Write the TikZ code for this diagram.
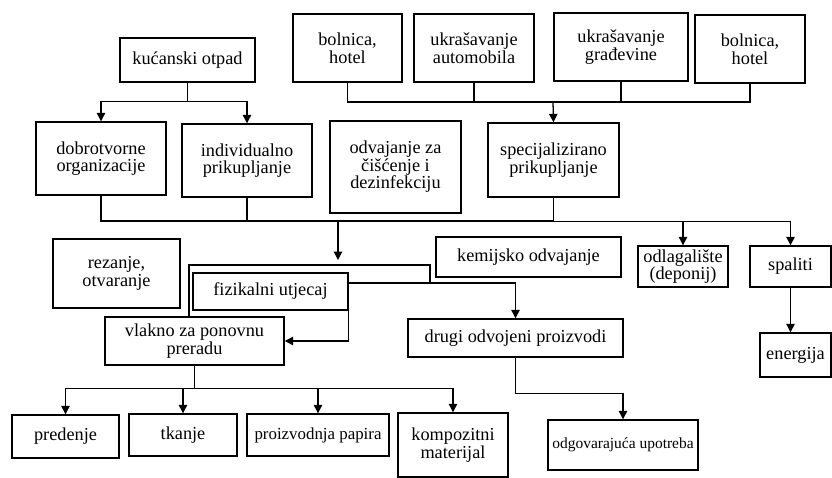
\documentclass[tikz,border=0pt]{standalone}
\usepackage{fontspec}
\setmainfont{Liberation Serif}
\usetikzlibrary{arrows.meta}

\tikzset{
  kutija/.style={draw, line width=1pt, align=center, inner sep=1pt,
    font=\fontsize{13}{12.5}\selectfont},
  veza/.style={line width=0.9pt},
  strelica/.style={line width=0.9pt, -{Triangle[width=6pt,length=6pt]}}
}

\begin{document}
\begin{tikzpicture}[x=0.025cm, y=-0.025cm]

\useasboundingbox (0,0) rectangle (832,478);

% Sources
\node[kutija, minimum width=3.375cm, minimum height=1.1cm] (kucanski) at (187.5,60) {kućanski otpad};
\node[kutija, minimum width=2.725cm, minimum height=1.7cm] (bolnicaA) at (347.5,48) {bolnica,\\hotel};
\node[kutija, minimum width=3.0cm, minimum height=1.7cm] (automob) at (474,48) {ukrašavanje\\automobila};
\node[kutija, minimum width=3.35cm, minimum height=1.7cm] (gradj) at (621,47) {ukrašavanje\\građevine};
\node[kutija, minimum width=2.75cm, minimum height=1.7cm] (bolnicaB) at (750,49) {bolnica,\\hotel};

% Collection
\node[kutija, minimum width=3.25cm, minimum height=1.825cm] (dobro) at (101,158.5) {dobrotvorne\\organizacije};
\node[kutija, minimum width=3.25cm, minimum height=1.825cm] (indiv) at (247,160.5) {individualno\\prikupljanje};
\node[kutija, minimum width=3.275cm, minimum height=2.3cm] (odvajanje) at (395.5,167) {odvajanje za\\čišćenje i\\dezinfekciju};
\node[kutija, minimum width=3.275cm, minimum height=1.85cm] (specijal) at (553.5,160) {specijalizirano\\prikupljanje};

% Treatment
\node[kutija, minimum width=3.175cm, minimum height=1.725cm] (rezanje) at (116.5,273.5) {rezanje,\\otvaranje};
\node[kutija, minimum width=3.875cm, minimum height=0.925cm] (fizikalni) at (270.5,291.5) {fizikalni utjecaj};
\node[kutija, minimum width=4.625cm, minimum height=1.0cm] (kemijsko) at (528.5,257) {kemijsko odvajanje};
\node[kutija, minimum width=2.25cm, minimum height=1.025cm] (odlag) at (683,266.5) {odlagalište\\(deponij)};
\node[kutija, minimum width=2.025cm, minimum height=1.025cm] (spaliti) at (790.5,266.5) {spaliti};
\node[kutija, minimum width=1.775cm, minimum height=1.1cm] (energija) at (795.5,355) {energija};

% Products
\node[kutija, minimum width=4.475cm, minimum height=1.2cm] (vlakno) at (194.5,341) {vlakno za ponovnu\\preradu};
\node[kutija, minimum width=5.375cm, minimum height=0.95cm] (drugi) at (515.5,338) {drugi odvojeni proizvodi};
\node[kutija, minimum width=3.75cm, minimum height=1.25cm, font=\fontsize{11}{12}\selectfont] (odgov) at (623,445) {odgovarajuća upotreba};
\node[kutija, minimum width=2.675cm, minimum height=1.075cm] (predenje) at (65.5,436.5) {predenje};
\node[kutija, minimum width=2.7cm, minimum height=1.05cm] (tkanje) at (183,435) {tkanje};
\node[kutija, minimum width=3.55cm, minimum height=1.05cm, font=\fontsize{12}{12}\selectfont] (papir) at (318,435) {proizvodnja papira};
\node[kutija, minimum width=2.75cm, minimum height=1.6cm] (kompozit) at (453,445) {kompozitni\\materijal};

% Junction points
\coordinate (vrh) at (553,102);
\coordinate (sabir) at (338,221);
\coordinate (razdjel) at (338,260);
\coordinate (spojA) at (430,265);

% Household waste
\draw[strelica] (kucanski.south) -- ++(0,19) -| (dobro.north);
\draw[strelica] (kucanski.south) -- ++(0,19) -| (indiv.north);

% Top sources into special collection
\draw[veza] (bolnicaA.south) |- (vrh);
\draw[veza] (automob.south) |- (vrh);
\draw[veza] (gradj.south) |- (vrh);
\draw[veza] (bolnicaB.south) |- (vrh);
\draw[strelica] (vrh) -- (specijal.north);

% Collection line
\draw[veza] (dobro.south) |- (sabir);
\draw[veza] (indiv.south) |- (sabir);
\draw[veza] (specijal.south) |- (sabir);
\draw[strelica] (sabir) -- (razdjel);
\draw[strelica] (specijal.south) -- ++(0,24) -| (odlag.north);
\draw[strelica] (specijal.south) -- ++(0,24) -| (spaliti.north);
\draw[strelica] (spaliti.south) -- (spaliti.south |- energija.north);

% Separation
\draw[veza] (vlakno.north) ++(-5.5,0) |- (spojA) -- ++(0,18);
\draw[strelica] (fizikalni.east) ++(0,-8.5) -| (drugi.north);
\draw[strelica] (fizikalni.south east) |- (vlakno.east);
\draw[strelica] (drugi.south) -- ++(0,36) -| (odgov.north);

% Uses of recycled fibre
\draw[strelica] (vlakno.south) -- ++(0,23) -| (predenje.north);
\draw[strelica] (vlakno.south) -- ++(0,23) -| (tkanje.north);
\draw[strelica] (vlakno.south) -- ++(0,23) -| (papir.north);
\draw[strelica] (vlakno.south) -- ++(0,23) -| (kompozit.north);

\end{tikzpicture}
\end{document}
